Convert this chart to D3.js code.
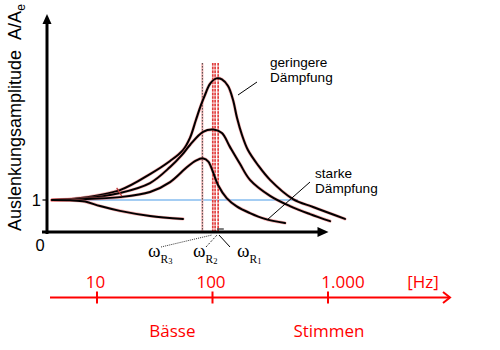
<!DOCTYPE html>
<html><head><meta charset="utf-8">
<script src="https://cdn.jsdelivr.net/npm/d3@7"></script>
<style>html,body{margin:0;padding:0;background:#fff;} svg{display:block}</style>
</head><body><svg id="c" width="500" height="350"></svg>
<script>
// ---- data (x: ω/ω0, y: amplitude A/Ae) ----
const curveWeak = [[0.029,1.00],[0.194,1.06],[0.429,1.31],[0.606,1.81],[0.724,2.22],[0.800,2.56],[0.841,2.94],[0.876,3.50],[0.906,3.97],[0.929,4.28],[0.959,4.63],[0.997,4.80],[1.029,4.77],[1.065,4.56],[1.094,4.13],[1.118,3.56],[1.147,3.03],[1.182,2.56],[1.241,2.09],[1.312,1.63],[1.447,1.03],[1.565,0.78],[1.753,0.41]];
const curveMedium = [[0.029,1.00],[0.194,1.03],[0.429,1.22],[0.606,1.53],[0.724,2.03],[0.794,2.41],[0.841,2.72],[0.918,3.13],[0.979,3.20],[1.029,3.09],[1.076,2.66],[1.135,2.13],[1.194,1.63],[1.312,1.13],[1.429,0.81],[1.547,0.56],[1.665,0.34]];
const curveStrong = [[0.029,1.00],[0.194,1.02],[0.429,1.09],[0.606,1.25],[0.724,1.56],[0.824,2.03],[0.876,2.23],[0.919,2.30],[0.949,2.20],[0.976,1.88],[1.006,1.47],[1.057,1.06],[1.116,0.80],[1.194,0.59],[1.282,0.41],[1.400,0.28]];
const curveOverdamped = [[0.029,1.00],[0.135,0.99],[0.224,0.95],[0.312,0.81],[0.429,0.66],[0.606,0.50],[0.800,0.41]];
const resonanceDotted = [0.914];
const resonanceDashed = [0.975, 0.989, 1.007];
const refLevel = 1;
const omegaSubs = ["3","2","1"];
const freqTicks = [10, 100, 1000];
const freqTickLabels = ["10", "100", "1.000"];
const freqUnit = "[Hz]";
const regionLabels = ["Bässe", "Stimmen"];
const regionFreqs = [45, 1020];
const yAxisTitle = "Auslenkungsamplitude";

// ---- drawing ----
const svg = d3.select("#c");
const x = d3.scaleLinear().domain([0, 1.65]).range([47, 327.5]);
const y = d3.scaleLinear().domain([0, 6.75]).range([232, 16]);
const fx = d3.scaleLog().domain([10, 1000]).range([97, 328]);
const line = d3.line().x(d => x(d[0])).y(d => y(d[1])).curve(d3.curveCatmullRom.alpha(0.5));

// reference line at A/Ae = 1
svg.append("line").attr("x1", x(0.023)).attr("x2", x(1.476))
  .attr("y1", y(refLevel)).attr("y2", y(refLevel))
  .attr("stroke", "#4a9be8").attr("stroke-width", 1.2);

// resonance markers
const vTop = y(5.28), vBot = y(0);
resonanceDotted.forEach(v => {
  svg.append("line").attr("x1", x(v)).attr("x2", x(v)).attr("y1", vTop).attr("y2", vBot)
    .attr("stroke", "#f2b0b0").attr("stroke-width", 2);
  svg.append("line").attr("x1", x(v)).attr("x2", x(v)).attr("y1", vTop).attr("y2", vBot)
    .attr("stroke", "#444").attr("stroke-width", 1).attr("stroke-dasharray", "1.5,1.5");
});
resonanceDashed.forEach(v => {
  svg.append("line").attr("x1", x(v)).attr("x2", x(v)).attr("y1", vTop).attr("y2", vBot)
    .attr("stroke", "#f7c4c4").attr("stroke-width", 1.6);
  svg.append("line").attr("x1", x(v)).attr("x2", x(v)).attr("y1", vTop).attr("y2", vBot)
    .attr("stroke", "#e03c3c").attr("stroke-width", 1.6).attr("stroke-dasharray", "2.5,1.2");
});

// curves
[curveWeak, curveMedium, curveStrong, curveOverdamped].forEach(c => {
  svg.append("path").attr("d", line(c)).attr("fill", "none")
    .attr("stroke", "#f07070").attr("stroke-width", 3.2).attr("stroke-opacity", 0.55)
    .attr("stroke-linecap", "round");
  svg.append("path").attr("d", line(c)).attr("fill", "none")
    .attr("stroke", "#000").attr("stroke-width", 2).attr("stroke-linecap", "round");
});
// small stroke mark crossing the rising flanks
svg.append("line").attr("x1", x(0.41)).attr("y1", y(1.38)).attr("x2", x(0.44)).attr("y2", y(1.12))
  .attr("stroke", "#b33").attr("stroke-width", 1.2);

// axes
const ax = svg.append("g").attr("stroke", "#000").attr("stroke-width", 3);
ax.append("line").attr("x1", x(0)).attr("x2", x(0)).attr("y1", y(0) + 2).attr("y2", y(6.6));
ax.append("line").attr("x1", x(0) - 5).attr("x2", x(1.60)).attr("y1", y(0)).attr("y2", y(0));
ax.append("line").attr("x1", x(0) - 4.5).attr("x2", x(0)).attr("y1", y(refLevel)).attr("y2", y(refLevel)).attr("stroke-width", 1.2);
svg.append("path").attr("d", `M${x(0)},${y(6.75) - 2} L${x(0) - 4.5},${y(6.75) + 8} L${x(0) + 4.5},${y(6.75) + 8} Z`).attr("fill", "#000");
svg.append("path").attr("d", `M${x(1.65) + 1},${y(0)} L${x(1.65) - 10},${y(0) - 5} L${x(1.65) - 10},${y(0) + 5} Z`).attr("fill", "#000");
svg.append("line").attr("x1", x(1.0)).attr("x2", x(1.04)).attr("y1", y(0) - 3).attr("y2", y(0) - 3)
  .attr("stroke", "#000").attr("stroke-width", 1);

// axis labels
const sans = "'Liberation Sans', Arial, sans-serif";
svg.append("text").attr("x", 41).attr("y", y(refLevel) + 6).attr("text-anchor", "end")
  .attr("font-family", sans).attr("font-size", 16.5).text("1");
svg.append("text").attr("x", 40).attr("y", 251).attr("text-anchor", "middle")
  .attr("font-family", sans).attr("font-size", 16.5).text("0");
const yt = svg.append("text").attr("transform", "translate(21,231) rotate(-90)")
  .attr("font-family", sans).attr("font-size", 18).attr("fill", "#000");
yt.append("tspan").text(yAxisTitle + "\u00a0\u00a0A/A");
yt.append("tspan").attr("font-size", 12).attr("dy", 4).text("e");

// damping annotations
const ann = svg.append("g").attr("font-family", sans).attr("font-size", 13.6).attr("fill", "#000");
ann.append("text").attr("x", 270).attr("y", 67).text("geringere");
ann.append("text").attr("x", 270).attr("y", 82).text("Dämpfung");
ann.append("text").attr("x", 315).attr("y", 178).text("starke");
ann.append("text").attr("x", 315).attr("y", 193).text("Dämpfung");
svg.append("line").attr("x1", 238).attr("y1", 95).attr("x2", 257).attr("y2", 82).attr("stroke", "#000").attr("stroke-width", 1);
svg.append("line").attr("x1", 267).attr("y1", 220).attr("x2", 310).attr("y2", 182).attr("stroke", "#000").attr("stroke-width", 1);

// omega labels
const serif = "'Liberation Serif', 'DejaVu Serif', serif";
const omegaX = [148, 193, 237];
omegaSubs.forEach((s, i) => {
  const t = svg.append("text").attr("x", omegaX[i]).attr("y", 256.5)
    .attr("font-family", serif).attr("font-size", 19).attr("fill", "#000");
  t.append("tspan").text("ω");
  t.append("tspan").attr("font-size", 11.5).attr("dy", 6).text("R");
  t.append("tspan").attr("font-size", 8.5).attr("dy", 1.5).text(s);
});
const px = x(1.0) + 1, py = y(0) + 3;
svg.append("line").attr("x1", 161).attr("y1", 247).attr("x2", px - 6).attr("y2", py)
  .attr("stroke", "#333").attr("stroke-width", 1).attr("stroke-dasharray", "1,1");
svg.append("line").attr("x1", 206).attr("y1", 247).attr("x2", px - 1).attr("y2", py)
  .attr("stroke", "#333").attr("stroke-width", 1).attr("stroke-dasharray", "2,1.5");
svg.append("line").attr("x1", 230).attr("y1", 247).attr("x2", px + 1).attr("y2", py)
  .attr("stroke", "#000").attr("stroke-width", 1);

// frequency axis (red, log)
const red = "#ff0000";
const fy = 297.5;
const fg = svg.append("g");
fg.append("line").attr("x1", 50).attr("x2", 450).attr("y1", fy).attr("y2", fy).attr("stroke", red).attr("stroke-width", 2);
fg.append("path").attr("d", `M443,${fy - 5.5} L450,${fy} L443,${fy + 5.5}`).attr("fill", "none").attr("stroke", red).attr("stroke-width", 2);
const ofs = "'Open Sans', sans-serif";
freqTicks.forEach((f, i) => {
  fg.append("line").attr("x1", fx(f)).attr("x2", fx(f)).attr("y1", fy - 6).attr("y2", fy + 6).attr("stroke", red).attr("stroke-width", 2);
  fg.append("text").attr("x", fx(f) + (i === 2 ? 15 : -1.5)).attr("y", 288).attr("text-anchor", "middle")
    .attr("font-family", ofs).attr("font-size", 17).attr("fill", red).text(freqTickLabels[i]);
});
fg.append("text").attr("x", 423).attr("y", 288).attr("text-anchor", "middle")
  .attr("font-family", ofs).attr("font-size", 17).attr("fill", red).text(freqUnit);
regionLabels.forEach((l, i) => {
  fg.append("text").attr("x", fx(regionFreqs[i])).attr("y", 337).attr("text-anchor", "middle")
    .attr("font-family", ofs).attr("font-size", 17).attr("fill", red).text(l);
});
</script></body></html>
